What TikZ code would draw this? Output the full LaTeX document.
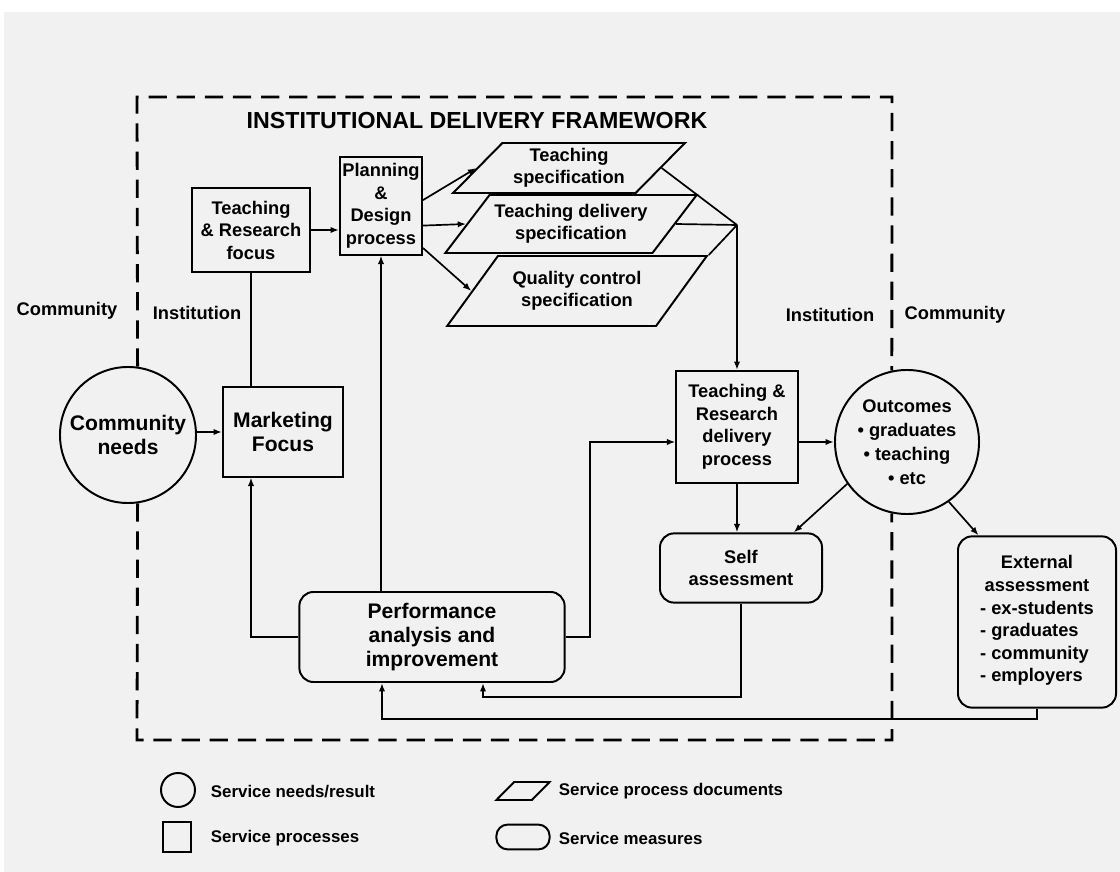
\documentclass[tikz,border=0pt]{standalone}
\usepackage{fontspec}
\setmainfont{Liberation Sans}
\usetikzlibrary{arrows.meta,shapes.geometric,positioning}
\definecolor{pagegray}{RGB}{241,241,241}

\begin{document}
\begin{tikzpicture}[x=0.025cm, y=-0.025cm,
  every node/.style={font=\bfseries\fontsize{13}{16}\selectfont, align=center},
  big/.style={font=\bfseries\fontsize{15}{17}\selectfont},
  side/.style={font=\bfseries\fontsize{13}{15}\selectfont},
  key/.style={font=\bfseries\fontsize{12}{14}\selectfont, anchor=west},
  line/.style={line width=1.2pt},
  arr/.style={line width=1.2pt, -{Latex[length=6pt,width=4.5pt]}},
  proc/.style={draw, line width=1.4pt, inner sep=1pt},
  need/.style={draw, circle, line width=1.4pt, inner sep=0pt},
  measure/.style={draw, rounded corners=10pt, line width=1.4pt, inner sep=1pt},
  doc/.style={draw, trapezium, trapezium left angle=45, trapezium right angle=135,
    trapezium stretches=true, line width=1.4pt, inner sep=1pt},
  frame/.style={line width=2pt, dash pattern=on 13pt off 7pt}]

\useasboundingbox (0,0) rectangle (1120,872);
\fill[pagegray] (4,12) rectangle (1120,872);

\node (title) at (477,121) [font=\bfseries\fontsize{16.5}{18}\selectfont] {INSTITUTIONAL DELIVERY FRAMEWORK};

% processes
\node[proc, minimum width=2.93cm, minimum height=2.1cm] (trf) at (251,230) {Teaching\\\& Research\\focus};
\node[proc, minimum width=2.05cm, minimum height=2.43cm] (plan) at (381,206) {Planning\\\&\\Design\\process};
\node[proc, big, minimum width=3cm, minimum height=2.23cm] (mkt) at (283,432) {Marketing\\Focus};
\node[proc, minimum width=3.03cm, minimum height=2.8cm] (trd) at (737,427) {Teaching \&\\Research\\delivery\\process};

% needs / results
\node[need, big, minimum size=3.4cm] (comm) at (128,435) {Community\\needs};
\node[need, minimum size=3.6cm, font=\bfseries\fontsize{13}{17}\selectfont] (out) at (907,442) {Outcomes\\\textbullet\ graduates\\\textbullet\ teaching\\\textbullet\ etc};

% documents
\node[doc, minimum width=5.8cm, minimum height=1.25cm] (tspec) at (569,168) {Teaching\\specification};
\node[doc, minimum width=6.3cm, minimum height=1.45cm] (tdspec) at (571,224) {Teaching delivery\\specification};
\node[doc, minimum width=6.5cm, minimum height=1.75cm] (qcspec) at (577,291) {Quality control\\specification};

% measures
\node[measure, minimum width=4.05cm, minimum height=1.73cm] (self) at (741,568) {Self\\assessment};
\node[measure, minimum width=3.95cm, minimum height=4.28cm] (ext) at (1037,622) {External\\assessment\\[4pt]\begin{tabular}{@{}l@{}}- ex-students\\- graduates\\- community\\- employers\end{tabular}};
\node[measure, big, minimum width=6.63cm, minimum height=2.25cm] (perf) at (432,637) {Performance\\analysis and\\improvement};

\node[side] (lcomm) at (67,311) {Community};
\node[side] (linst) at (197,313) {Institution};
\node[side] (rinst) at (830,315) {Institution};
\node[side] (rcomm) at (955,315) {Community};

\coordinate (jn) at (737,225);
\coordinate (loopR) at (590,637);
\coordinate (sa) at (483,697);
\coordinate (ea) at (382,719);

\draw[frame] (comm.82) -- (137,97) -- (892,97) -- (out.102);
\draw[frame] (comm.-82) -- (137,740) -- (892,740) -- (out.-102);

\draw[arr] (trf.east) -- (trf.east -| plan.west);
\draw[line] (trf.south) -- (trf.south |- mkt.north);
\draw[arr] (comm.east |- mkt.west) -- (mkt.west);
\draw[arr] (plan.8) -- (tspec.west);
\draw[arr] (plan.-25) -- (tdspec.west);
\draw[arr] (plan.-45) -- (qcspec.west);
\draw[line] (tspec.east) -- (jn);
\draw[line] (tdspec.east) -- (jn);
\draw[line] (qcspec.top right corner) -- (jn);
\draw[arr] (jn) -- (trd.north);
\draw[arr] (trd.east |- out.west) -- (out.west);
\draw[arr] (trd.south) -- (trd.south |- self.north);
\draw[arr] (out.215) -- (self.34);
\draw[arr] (out.-55) -- (ext.124);
\draw[arr] (perf.east) -- (loopR) |- (trd.west |- out.west);
\draw[arr] (perf.west) -| (trf.south |- mkt.south);
\draw[arr] (perf.north -| plan.south) -- (plan.south);
\draw[arr] (self.south) |- (sa) -- (sa |- perf.south);
\draw[arr] (ext.south) |- (ea) -- (ea |- perf.south);

% key
\node[need, minimum size=0.85cm] (lneed) at (178,790) {};
\node[key] (tneed) at (206,792) {Service needs/result};
\node[proc, minimum width=0.7cm, minimum height=0.75cm] (lproc) at (177,837) {};
\node[key] (tproc) at (206,838) {Service processes};
\node[doc, minimum width=1.33cm, minimum height=0.45cm] (ldoc) at (523,791) {};
\node[key] (tdoc) at (554,791) {Service process documents};
\node[measure, rounded corners=8pt, minimum width=1.33cm, minimum height=0.62cm] (lmeas) at (523,837) {};
\node[key] (tmeas) at (554,838) {Service measures};
\end{tikzpicture}
\end{document}
